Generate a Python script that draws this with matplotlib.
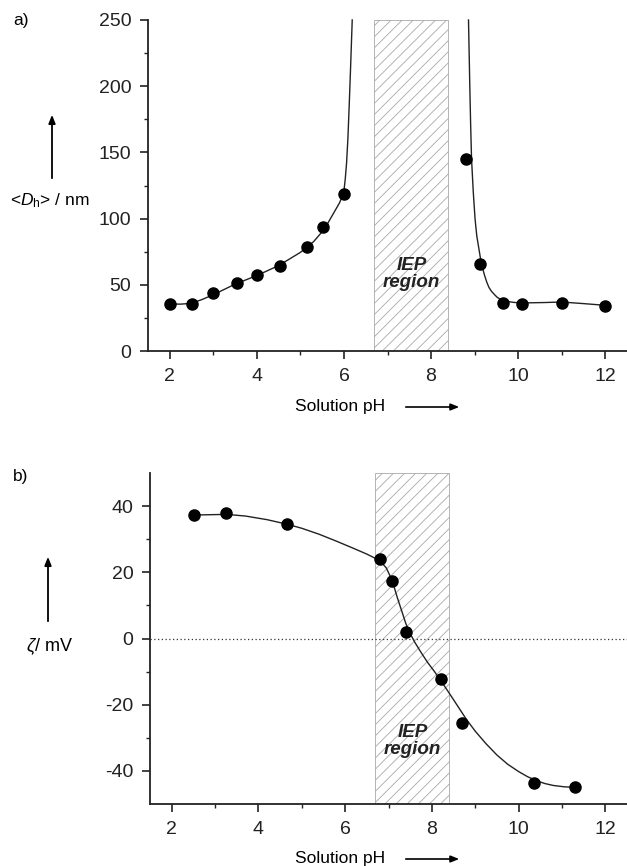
import matplotlib
matplotlib.use("Agg")
import matplotlib.pyplot as plt
import numpy as np

plt.rcParams['font.family'] = ['Liberation Sans', 'DejaVu Sans']
plt.rcParams['mathtext.fontset'] = 'custom'
plt.rcParams['mathtext.rm'] = 'Liberation Sans'
plt.rcParams['mathtext.it'] = 'Liberation Sans:italic'
plt.rcParams['axes.unicode_minus'] = False
plt.rcParams['hatch.linewidth'] = 0.6
plt.rcParams['hatch.color'] = '#9a9a9a'

# a) hydrodynamic diameter vs pH
ph_a = [2.0, 2.5, 3.0, 3.55, 4.0, 4.53, 5.14, 5.53, 5.99, 8.8, 9.13, 9.66, 10.1, 11.0, 12.0]
dh_a = [35.5, 35.5, 43.6, 51.6, 57.2, 64.2, 78.8, 93.9, 118.3, 145, 65.5, 36, 35.3, 36.5, 34.2]

# guide curve of panel a, two branches
fit_a_left_x = [2.0, 2.25, 2.5, 2.75, 3.0, 3.5, 4.0, 4.5, 5.0, 5.3, 5.55, 5.76, 5.9, 5.95, 6.0,
                6.03, 6.06, 6.09, 6.12, 6.15, 6.19]
fit_a_left_y = [35.5, 35.4, 36.0, 39.0, 42.5, 50.5, 57.0, 64.5, 74.5, 82.5, 92.0, 104.0, 112.0, 116.0, 121.0,
                130.0, 142.0, 160.0, 185.0, 212.0, 250.0]
fit_a_right_x = [8.86, 8.875, 8.89, 8.91, 8.93, 8.97, 9.01, 9.05, 9.1, 9.14, 9.18, 9.23, 9.28, 9.33, 9.39,
                 9.46, 9.52, 9.6, 9.66, 9.8, 9.9, 10.1, 10.6, 11.0, 11.5, 12.0]
fit_a_right_y = [250.0, 225.0, 200.0, 170.0, 145.0, 120.0, 100.0, 87.0, 77.0, 69.0, 63.0, 57.0, 52.0, 48.0, 45.0,
                 42.5, 40.5, 39.0, 38.2, 37.2, 36.7, 36.3, 36.6, 37.0, 35.8, 34.5]

# b) zeta potential vs pH
ph_b = [2.51, 3.26, 4.67, 6.81, 7.08, 7.41, 8.22, 8.69, 10.36, 11.3]
zeta_b = [37.3, 37.9, 34.5, 24.0, 17.4, 2.0, -12.3, -25.4, -43.7, -45.0]

fit_b_x = [2.51, 3.26, 3.7, 4.2, 4.67, 5.0, 5.4, 5.8, 6.2, 6.5, 6.7, 6.85, 6.95, 7.05, 7.12, 7.2, 7.3,
           7.4, 7.5, 7.6, 7.75, 7.9, 8.05, 8.22, 8.4, 8.6, 8.8, 9.0, 9.25, 9.5, 9.75, 10.0, 10.2,
           10.4, 10.6, 10.8, 11.05, 11.3]
fit_b_y = [37.3, 37.5, 37.0, 35.9, 34.5, 33.3, 31.5, 29.4, 27.2, 25.5, 24.2, 22.8, 21.3, 18.5, 16.0, 12.5, 8.5,
           4.5, 1.5, -1.0, -4.2, -7.2, -9.8, -13.0, -16.5, -20.5, -24.5, -28.0, -31.8, -35.2, -38.0, -40.2, -41.7,
           -42.9, -43.8, -44.4, -44.8, -45.0]

iep = (6.7, 8.4)

fig = plt.figure(figsize=(6.27, 8.66), dpi=100)
ax_a = fig.add_axes([148 / 627, 1 - 351 / 866, 479 / 627, 331 / 866])
ax_b = fig.add_axes([150 / 627, 1 - 804 / 866, 477 / 627, 331 / 866])


def style_axis(ax, ylim, major, minor):
    ax.set_xlim(1.5, 12.5)
    ax.set_ylim(*ylim)
    ax.set_xticks([2, 4, 6, 8, 10, 12])
    ax.set_xticks([3, 5, 7, 9, 11], minor=True)
    ax.set_yticks(major)
    ax.set_yticks(minor, minor=True)
    for s in ['top', 'right']:
        ax.spines[s].set_visible(False)
    for s in ['left', 'bottom']:
        ax.spines[s].set_linewidth(1.3)
        ax.spines[s].set_color('#222222')
    ax.tick_params(which='major', direction='out', length=6, width=1.2, labelsize=14, colors='#222222', pad=6)
    ax.tick_params(which='minor', direction='out', length=3, width=1.0, colors='#222222')


iep_kw = dict(ha='center', va='center', fontsize=13.5, fontweight='bold', fontstyle='italic',
              color='#222222', linespacing=1.0)

# panel a
ax_a.bar((iep[0] + iep[1]) / 2, 250, width=iep[1] - iep[0], bottom=0, fill=False,
         hatch='///', edgecolor='#a8a8a8', linewidth=0.6, zorder=1)
ax_a.plot(fit_a_left_x, fit_a_left_y, color='#222222', lw=1.0, zorder=2, clip_on=False)
ax_a.plot(fit_a_right_x, fit_a_right_y, color='#222222', lw=1.0, zorder=2, clip_on=False)
ax_a.plot(ph_a, dh_a, 'o', color='black', ms=8, zorder=3)
ax_a.text(7.55, 58, 'IEP\nregion', **iep_kw)
style_axis(ax_a, (0, 250), [0, 50, 100, 150, 200, 250], [25, 75, 125, 175, 225])

# panel b
ax_b.bar((iep[0] + iep[1]) / 2, 100, width=iep[1] - iep[0], bottom=-50, fill=False,
         hatch='///', edgecolor='#a8a8a8', linewidth=0.6, zorder=1)
ax_b.axhline(0, color='#333333', lw=0.9, ls=(0, (1, 2)), zorder=1)
ax_b.plot(fit_b_x, fit_b_y, color='#222222', lw=1.0, zorder=2)
ax_b.plot(ph_b, zeta_b, 'o', color='black', ms=8, zorder=3)
ax_b.text(7.55, -31, 'IEP\nregion', **iep_kw)
style_axis(ax_b, (-50, 50), [-40, -20, 0, 20, 40], [-30, -10, 10, 30])

# panel letters
fig.text(13 / 627, 1 - 20 / 866, 'a)', fontsize=12.5, va='center', ha='left')
fig.text(13 / 627, 1 - 476 / 866, 'b)', fontsize=12.5, va='center', ha='left')

# y labels with arrows
fig.text(50 / 627, 1 - 201 / 866, r'<$\mathit{D}_\mathrm{h}$> / nm', fontsize=12.5, ha='center', va='center')
fig.text(50 / 627, 1 - 647 / 866, r'$\mathit{\zeta}$/ mV', fontsize=13, ha='center', va='center')
for x0, y0, y1 in [(52, 181, 112), (48, 624, 554)]:
    fig.patches.append(matplotlib.patches.FancyArrowPatch(
        (x0 / 627, 1 - y0 / 866), (x0 / 627, 1 - y1 / 866), transform=fig.transFigure,
        arrowstyle='-|>,head_length=5,head_width=2', mutation_scale=1, color='black', lw=1.3))

# x labels with arrows
for y in [407, 859]:
    fig.text(295 / 627, 1 - y / 866, 'Solution pH', fontsize=12.5, ha='left', va='center')
    fig.patches.append(matplotlib.patches.FancyArrowPatch(
        (403 / 627, 1 - y / 866), (462 / 627, 1 - y / 866), transform=fig.transFigure,
        arrowstyle='-|>,head_length=5,head_width=2', mutation_scale=1, color='black', lw=1.2))

fig.savefig('out.png', dpi=100)
